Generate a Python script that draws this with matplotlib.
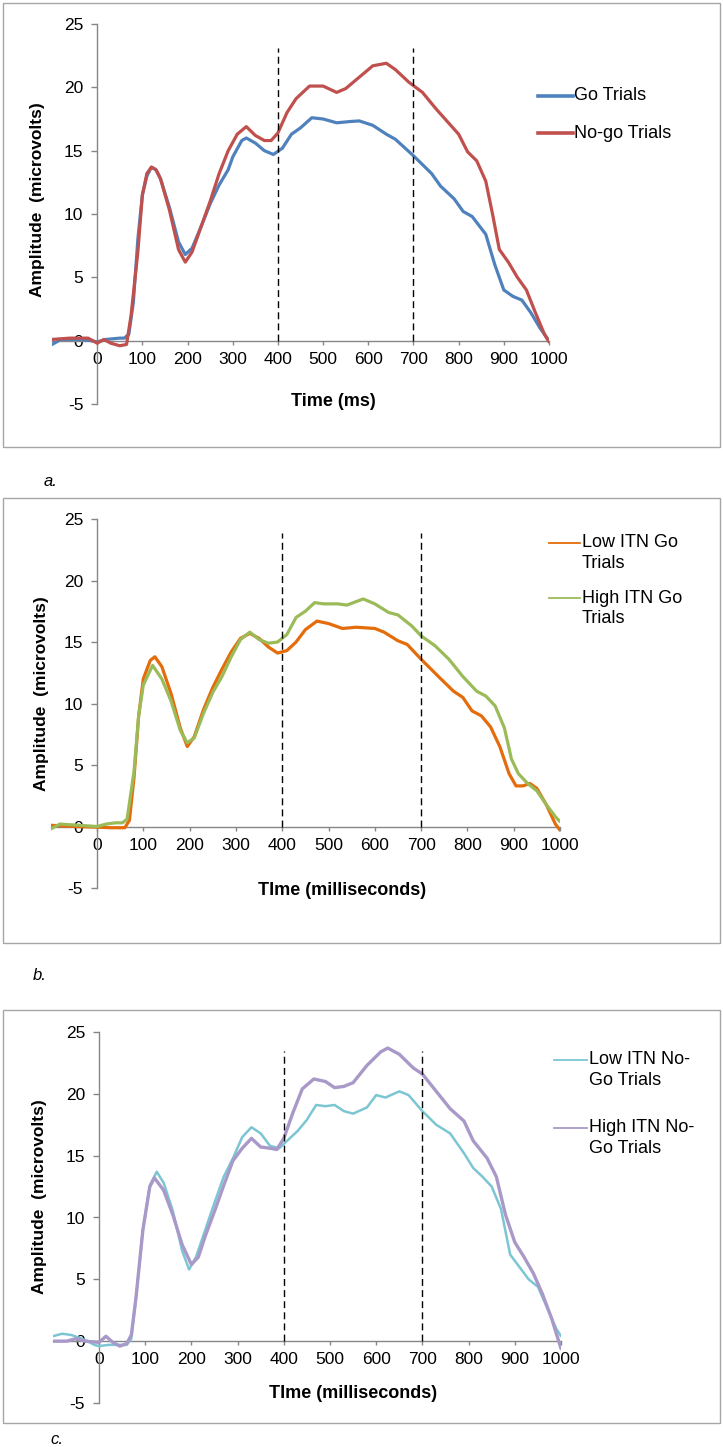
import matplotlib
matplotlib.use("Agg")
import matplotlib.pyplot as plt
from matplotlib.lines import Line2D
from matplotlib.patches import Rectangle

plt.rcParams['font.family'] = ['Liberation Sans', 'DejaVu Sans']

# ---- panel a: Go vs No-go ----
go_t = [-100, -80, -50, -20, 0, 20, 50, 60, 70, 80, 90, 100, 110, 120, 130, 140, 160, 180, 195,
        210, 230, 250, 270, 290, 300, 320, 330, 350, 370, 390, 410, 430, 450, 475, 500,
        530, 560, 580, 610, 640, 660, 700, 740, 760, 790, 810, 830, 860, 880, 900, 920,
        940, 960, 980, 1000]
go_v = [-0.3, 0.1, 0.1, 0.05, -0.1, 0.1, 0.2, 0.2, 0.5, 3.0, 8.0, 11.5, 13.0, 13.7, 13.5, 12.8,
        10.5, 7.8, 6.8, 7.3, 9.0, 10.8, 12.3, 13.5, 14.5, 15.8, 16.0, 15.6, 15.0, 14.7,
        15.2, 16.3, 16.8, 17.6, 17.5, 17.2, 17.3, 17.35, 17.0, 16.3, 15.9, 14.6, 13.2,
        12.2, 11.2, 10.2, 9.8, 8.4, 6.0, 4.0, 3.5, 3.2, 2.2, 1.0, 0.0]

nogo_t = [-100, -60, -20, 0, 15, 30, 50, 65, 75, 90, 100, 110, 120, 130, 140, 160, 180, 195,
          210, 230, 250, 270, 290, 310, 330, 350, 370, 385, 400, 420, 440, 470, 500, 530,
          550, 580, 610, 640, 660, 690, 720, 750, 780, 800, 820, 840, 860, 875, 890, 910,
          930, 950, 970, 990, 1000]
nogo_v = [0.1, 0.2, 0.2, -0.2, 0.1, -0.2, -0.4, -0.3, 2.0, 7.0, 11.5, 13.2, 13.7, 13.5, 12.8,
          10.3, 7.2, 6.2, 7.0, 9.0, 11.0, 13.2, 15.0, 16.3, 16.9, 16.2, 15.8, 15.8, 16.4,
          18.0, 19.1, 20.1, 20.1, 19.6, 19.9, 20.8, 21.7, 21.9, 21.4, 20.4, 19.6, 18.3,
          17.1, 16.3, 14.9, 14.2, 12.6, 10.0, 7.2, 6.2, 5.0, 4.0, 2.2, 0.5, -0.1]

# ---- panel b: Low vs High ITN Go ----
lowgo_t = [-100, -50, 0, 30, 60, 70, 80, 90, 100, 115, 125, 140, 160, 180, 195, 210, 230,
           250, 270, 290, 310, 330, 350, 370, 390, 410, 430, 450, 475, 500, 530, 560, 600,
           620, 650, 670, 700, 740, 770, 790, 810, 830, 850, 870, 890, 905, 920, 935, 950,
           970, 990, 1000]
lowgo_v = [0.1, 0.0, -0.05, -0.1, -0.1, 0.5, 4.0, 9.0, 12.0, 13.5, 13.8, 13.0, 10.8, 8.0,
           6.5, 7.3, 9.5, 11.3, 12.8, 14.2, 15.3, 15.7, 15.3, 14.6, 14.1, 14.3, 15.0, 16.0,
           16.7, 16.5, 16.1, 16.2, 16.1, 15.8, 15.1, 14.8, 13.6, 12.1, 11.0, 10.5, 9.4,
           9.0, 8.1, 6.5, 4.3, 3.3, 3.3, 3.5, 3.1, 1.8, 0.2, -0.3]

highgo_t = [-100, -80, -40, 0, 20, 40, 55, 65, 80, 90, 100, 120, 140, 160, 180, 195, 210,
            230, 250, 270, 290, 310, 330, 350, 370, 390, 410, 430, 450, 470, 490, 520, 540,
            575, 600, 630, 650, 680, 700, 730, 760, 790, 820, 840, 860, 880, 895, 910, 930,
            950, 970, 990, 1000]
highgo_v = [-0.2, 0.2, 0.1, 0.0, 0.2, 0.3, 0.3, 0.6, 4.5, 9.0, 11.5, 13.1, 12.0, 10.2, 7.8,
            6.8, 7.2, 9.2, 10.9, 12.2, 13.8, 15.2, 15.8, 15.2, 14.9, 15.0, 15.6, 17.0, 17.5,
            18.2, 18.1, 18.1, 18.0, 18.5, 18.1, 17.4, 17.2, 16.3, 15.5, 14.7, 13.6, 12.2,
            11.0, 10.6, 9.8, 8.0, 5.5, 4.3, 3.5, 2.9, 1.8, 0.8, 0.4]

# ---- panel c: Low vs High ITN No-Go ----
lownogo_t = [-100, -80, -60, -30, -10, 0, 20, 40, 60, 70, 80, 95, 110, 125, 140, 160, 180,
             195, 210, 230, 250, 270, 290, 310, 330, 350, 370, 390, 410, 430, 450, 470, 490,
             510, 530, 550, 580, 600, 620, 650, 670, 700, 730, 760, 790, 810, 830, 850, 870,
             890, 910, 930, 950, 970, 990, 1000]
lownogo_v = [0.4, 0.6, 0.5, 0.1, -0.3, -0.4, -0.3, -0.3, -0.3, 0.2, 3.5, 9.0, 12.6, 13.7,
             12.8, 10.5, 7.3, 5.8, 6.8, 9.0, 11.2, 13.3, 14.8, 16.5, 17.3, 16.8, 15.8, 15.6,
             16.3, 17.0, 17.9, 19.1, 19.0, 19.1, 18.6, 18.4, 18.9, 19.9, 19.7, 20.2, 19.9,
             18.6, 17.5, 16.8, 15.2, 14.0, 13.3, 12.5, 10.7, 7.0, 6.0, 5.0, 4.4, 2.7, 1.0, 0.4]

highnogo_t = [-100, -70, -50, -30, 0, 15, 30, 45, 60, 70, 80, 95, 110, 120, 140, 160, 180,
              200, 215, 230, 250, 270, 290, 310, 330, 350, 370, 385, 400, 420, 440, 465, 490,
              510, 530, 550, 580, 610, 625, 650, 680, 700, 730, 760, 790, 810, 840, 860, 880,
              900, 920, 940, 960, 980, 1000]
highnogo_v = [0.0, 0.0, 0.2, 0.0, -0.1, 0.4, -0.1, -0.4, -0.2, 0.5, 3.5, 9.0, 12.5, 13.2,
              12.2, 10.2, 7.8, 6.2, 6.8, 8.5, 10.5, 12.6, 14.6, 15.6, 16.4, 15.7, 15.6, 15.5,
              16.4, 18.5, 20.4, 21.2, 21.0, 20.5, 20.6, 20.9, 22.3, 23.4, 23.7, 23.2, 22.1,
              21.6, 20.2, 18.8, 17.8, 16.2, 14.8, 13.3, 10.2, 8.0, 6.8, 5.5, 3.8, 1.8, -0.6]

x_ticks = list(range(0, 1001, 100))
y_ticks = [-5, 0, 5, 10, 15, 20, 25]
window = [400, 700]

fig = plt.figure(figsize=(7.23, 14.47), dpi=100)
W, H = 723.0, 1447.0


def fx(px):
    return px / W


def fy(py):
    return 1 - py / H


panels = [
    dict(axpos=[52, 549, 24, 404], box=[3, 720, 3, 447], letter=("a.", 44, 481),
         series=[(go_t, go_v, '#4F81BD', 2.3),
                 (nogo_t, nogo_v, '#C0504D', 2.3)],
         dash_top=23.1, xlabel="Time (ms)", xlab_xy=(523, -4.8), ylab_xy=(-0.030, 0.537),
         leg_line=(538, 573), leg_text_x=574,
         leg=[(96, ['Go Trials']), (133, ['No-go Trials'])], leg_lw=2.6),
    dict(axpos=[50.7, 560, 519, 888], box=[3, 720, 498, 943], letter=("b.", 33, 975),
         series=[(lowgo_t, lowgo_v, '#E46C0A', 2.3),
                 (highgo_t, highgo_v, '#9BBB59', 2.3)],
         dash_top=23.9, xlabel="TIme (milliseconds)", xlab_xy=(529, -5.2), ylab_xy=(-0.019, 0.526),
         leg_line=(549, 580), leg_text_x=582,
         leg=[(543, ['Low ITN Go', 'Trials']), (598, ['High ITN Go', 'Trials'])], leg_lw=1.3),
    dict(axpos=[52.8, 561, 1032, 1403], box=[3, 720, 1010, 1423], letter=("c.", 50, 1440),
         series=[(lownogo_t, lownogo_v, '#7CC6D4', 1.8),
                 (highnogo_t, highnogo_v, '#A899C8', 2.4)],
         dash_top=23.5, xlabel="TIme (milliseconds)", xlab_xy=(550, -4.2), ylab_xy=(-0.027, 0.555),
         leg_line=(554, 587), leg_text_x=589,
         leg=[(1060, ['Low ITN No-', 'Go Trials']), (1128, ['High ITN No-', 'Go Trials'])], leg_lw=1.3),
]

for p in panels:
    # outer frame of the chart
    bx0, bx1, by0, by1 = p['box']
    fig.add_artist(Rectangle((fx(bx0), fy(by1)), fx(bx1 - bx0), (by1 - by0) / H,
                             transform=fig.transFigure, fill=False,
                             edgecolor='#A6A6A6', linewidth=1.0))
    lt, lx, ly = p['letter']
    fig.text(fx(lx), fy(ly), lt, fontsize=12, style='italic', ha='left', va='center')

    x0, x1, y0, y1 = p['axpos']
    ax = fig.add_axes([fx(x0), fy(y1), (x1 - x0) / W, (y1 - y0) / H])
    ax.set_xlim(-100, 1000)
    ax.set_ylim(-5, 25)
    ax.patch.set_visible(False)

    for t, v, c, lw in p['series']:
        ax.plot(t, v, color=c, linewidth=lw, zorder=3, solid_capstyle='round',
                solid_joinstyle='round')
    ax.vlines(window, 0, p['dash_top'], colors='black', linestyles=(0, (5, 3)),
              linewidth=1.0, zorder=4)

    for s in ['top', 'right']:
        ax.spines[s].set_visible(False)
    ax.spines['left'].set_position(('data', 0))
    ax.spines['bottom'].set_position(('data', 0))
    for s in ['left', 'bottom']:
        ax.spines[s].set_color('#868686')
        ax.spines[s].set_linewidth(1.0)
    ax.set_xticks(x_ticks)
    ax.set_yticks(y_ticks)
    ax.set_yticklabels([str(v) for v in y_ticks])
    ax.tick_params(axis='x', direction='out', length=3, width=1, color='#868686',
                   labelsize=12.5, pad=5)
    ax.tick_params(axis='y', direction='out', length=4, width=1, color='#868686',
                   labelsize=12.5, pad=6)

    ax.text(p['xlab_xy'][0], p['xlab_xy'][1], p['xlabel'], fontsize=13, fontweight='bold',
            ha='center', va='center', clip_on=False)
    ax.text(p['ylab_xy'][0], p['ylab_xy'][1], 'Amplitude  (microvolts)', fontsize=12.5,
            fontweight='bold', rotation=90, ha='center', va='center',
            transform=ax.transAxes, clip_on=False)

    # legend drawn Excel-style: handle beside the first line of each entry
    for (ly0, lines), (t, v, c, lw) in zip(p['leg'], p['series']):
        fig.add_artist(Line2D([fx(p['leg_line'][0]), fx(p['leg_line'][1])], [fy(ly0), fy(ly0)],
                              transform=fig.transFigure, color=c, linewidth=p['leg_lw']))
        for i, line in enumerate(lines):
            fig.text(fx(p['leg_text_x']), fy(ly0 + 20.5 * i), line, fontsize=13,
                     ha='left', va='center')

fig.savefig('out.png', dpi=100)
